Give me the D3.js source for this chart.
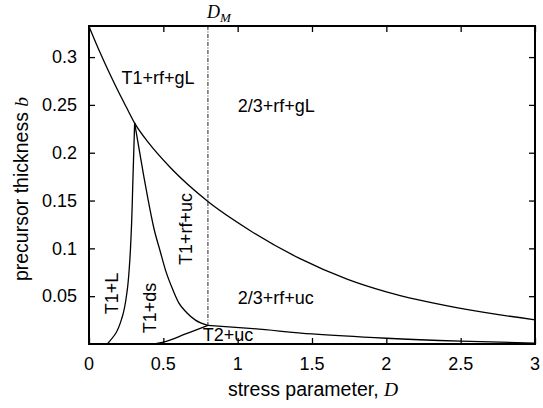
<!DOCTYPE html>
<html>
<head>
<meta charset="utf-8">
<script src="https://cdn.jsdelivr.net/npm/d3@7"></script>
<style>
  body { margin: 0; background: #fff; }
  text { font-family: "Liberation Sans", Arial, sans-serif; fill: #000; }
  .it { font-family: "Liberation Serif", "Times New Roman", serif; font-style: italic; }
</style>
</head>
<body>
<div id="chart"></div>
<script>
// phase boundaries (D = stress parameter, b = precursor thickness)
const upperD = [0, 0.05, 0.1, 0.15, 0.2, 0.25, 0.307, 0.4, 0.55, 0.8, 1.08, 1.416, 1.74, 2.0, 2.49, 3.0];
const upperB = [0.332, 0.3135, 0.296, 0.2792, 0.2632, 0.248, 0.231, 0.2105, 0.184, 0.149, 0.119, 0.0895, 0.0676, 0.0545, 0.0375, 0.0253];

const leftD = [0.123, 0.179, 0.224, 0.257, 0.273, 0.285, 0.296, 0.307];
const leftB = [0, 0.011, 0.0285, 0.056, 0.084, 0.12, 0.175, 0.231];

const midD = [0.307, 0.369, 0.398, 0.438, 0.477, 0.515, 0.566, 0.604, 0.656, 0.716, 0.8];
const midB = [0.231, 0.175, 0.1505, 0.12, 0.098, 0.077, 0.056, 0.043, 0.033, 0.025, 0.0195];

const t2LeftD = [0.44, 0.5, 0.65, 0.8];
const t2LeftB = [0, 0.002, 0.0105, 0.0195];

const t2RightD = [0.8, 1.08, 1.5, 2.0, 2.5, 3.0];
const t2RightB = [0.0195, 0.0164, 0.0105, 0.006, 0.003, 0.001];

const D_M = 0.8;

const xTicks = [0, 0.5, 1, 1.5, 2, 2.5, 3];
const xTickLabels = ["0", "0.5", "1", "1.5", "2", "2.5", "3"];
const yTicks = [0.05, 0.1, 0.15, 0.2, 0.25, 0.3];
const yTickLabels = ["0.05", "0.1", "0.15", "0.2", "0.25", "0.3"];

// region names, anchored in data units
const regionText = ["T1+rf+gL", "2/3+rf+gL", "2/3+rf+uc", "T2+uc", "T1+L", "T1+ds", "T1+rf+uc"];
const regionD    = [0.219, 1.0, 1.0, 0.765, 0.195, 0.452, 0.694];
const regionB    = [0.272, 0.2426, 0.0418, 0.003, 0.0528, 0.0376, 0.1202];
const regionRot  = [false, false, false, false, true, true, true];

const W = 543, H = 408;
const margin = {left: 89, top: 26, right: 8, bottom: 64};

const x = d3.scaleLinear().domain([0, 3]).range([margin.left, W - margin.right]);
const y = d3.scaleLinear().domain([0, 0.3325]).range([H - margin.bottom, margin.top]);

const svg = d3.select("#chart").append("svg")
    .attr("width", W)
    .attr("height", H);

const line = d3.line()
    .x(d => x(d[0]))
    .y(d => y(d[1]))
    .curve(d3.curveMonotoneX);

const lineY = d3.line()
    .x(d => x(d[0]))
    .y(d => y(d[1]))
    .curve(d3.curveMonotoneY);

const curves = [
    {pts: d3.zip(upperD, upperB), gen: line},
    {pts: d3.zip(leftD, leftB), gen: lineY},
    {pts: d3.zip(midD, midB), gen: line},
    {pts: d3.zip(t2LeftD, t2LeftB), gen: line},
    {pts: d3.zip(t2RightD, t2RightB), gen: line}
];

svg.append("g")
    .selectAll("path")
    .data(curves)
    .join("path")
    .attr("fill", "none")
    .attr("stroke", "#000")
    .attr("stroke-width", 1.3)
    .attr("d", d => d.gen(d.pts));

// D_M marker
svg.append("line")
    .attr("x1", x(D_M)).attr("x2", x(D_M))
    .attr("y1", y(0.3325)).attr("y2", y(0.0195))
    .attr("stroke", "#222")
    .attr("stroke-width", 1)
    .attr("stroke-dasharray", "4,1.5,1,1.5");

const dm = svg.append("text")
    .attr("x", x(D_M) - 1)
    .attr("y", 18)
    .attr("class", "it")
    .style("font-size", "18px");
dm.append("tspan").text("D");
dm.append("tspan").attr("dy", 4).style("font-size", "13px").text("M");

// axes: ticks on all four sides, pointing inward (gnuplot style)
const tickLen = 6;
const xAxisB = d3.axisBottom(x).tickValues(xTicks).tickSize(-tickLen).tickFormat("");
const xAxisT = d3.axisTop(x).tickValues(xTicks).tickSize(-tickLen).tickFormat("");
const yAxisL = d3.axisLeft(y).tickValues(yTicks).tickSize(-tickLen).tickFormat("");
const yAxisR = d3.axisRight(y).tickValues(yTicks).tickSize(-tickLen).tickFormat("");

svg.append("g").attr("transform", `translate(0,${y(0)})`).call(xAxisB);
svg.append("g").attr("transform", `translate(0,${y(0.3325)})`).call(xAxisT);
svg.append("g").attr("transform", `translate(${x(0)},0)`).call(yAxisL);
svg.append("g").attr("transform", `translate(${x(3)},0)`).call(yAxisR);
svg.selectAll(".domain").remove();
svg.selectAll(".tick line").attr("stroke", "#000").attr("stroke-width", 1.3);

svg.append("rect")
    .attr("x", x(0)).attr("y", y(0.3325))
    .attr("width", x(3) - x(0))
    .attr("height", y(0) - y(0.3325))
    .attr("fill", "none")
    .attr("stroke", "#000")
    .attr("stroke-width", 2);

// tick labels
svg.append("g")
    .selectAll("text")
    .data(xTicks)
    .join("text")
    .attr("x", d => x(d))
    .attr("y", 370)
    .attr("text-anchor", "middle")
    .style("font-size", "18px")
    .text((d, i) => xTickLabels[i]);

svg.append("g")
    .selectAll("text")
    .data(yTicks)
    .join("text")
    .attr("x", 77)
    .attr("y", d => y(d))
    .attr("dy", "0.35em")
    .attr("text-anchor", "end")
    .style("font-size", "18px")
    .text((d, i) => yTickLabels[i]);

// axis titles
const xl = svg.append("text")
    .attr("x", (x(0) + x(3)) / 2 + 1)
    .attr("y", 396)
    .attr("text-anchor", "middle")
    .style("font-size", "19.5px");
xl.append("tspan").text("stress parameter, ");
xl.append("tspan").attr("class", "it").text("D");

const yl = svg.append("text")
    .attr("transform", `translate(28,189) rotate(-90)`)
    .attr("text-anchor", "middle")
    .style("font-size", "19.5px");
yl.append("tspan").text("precursor thickness ");
yl.append("tspan").attr("class", "it").text("b");

// region labels
svg.append("g")
    .selectAll("text")
    .data(regionText)
    .join("text")
    .attr("transform", (d, i) => regionRot[i]
        ? `translate(${x(regionD[i])},${y(regionB[i])}) rotate(-90)`
        : `translate(${x(regionD[i])},${y(regionB[i])})`)
    .attr("text-anchor", (d, i) => regionRot[i] ? "middle" : "start")
    .style("font-size", "18px")
    .text(d => d);
</script>
</body>
</html>
